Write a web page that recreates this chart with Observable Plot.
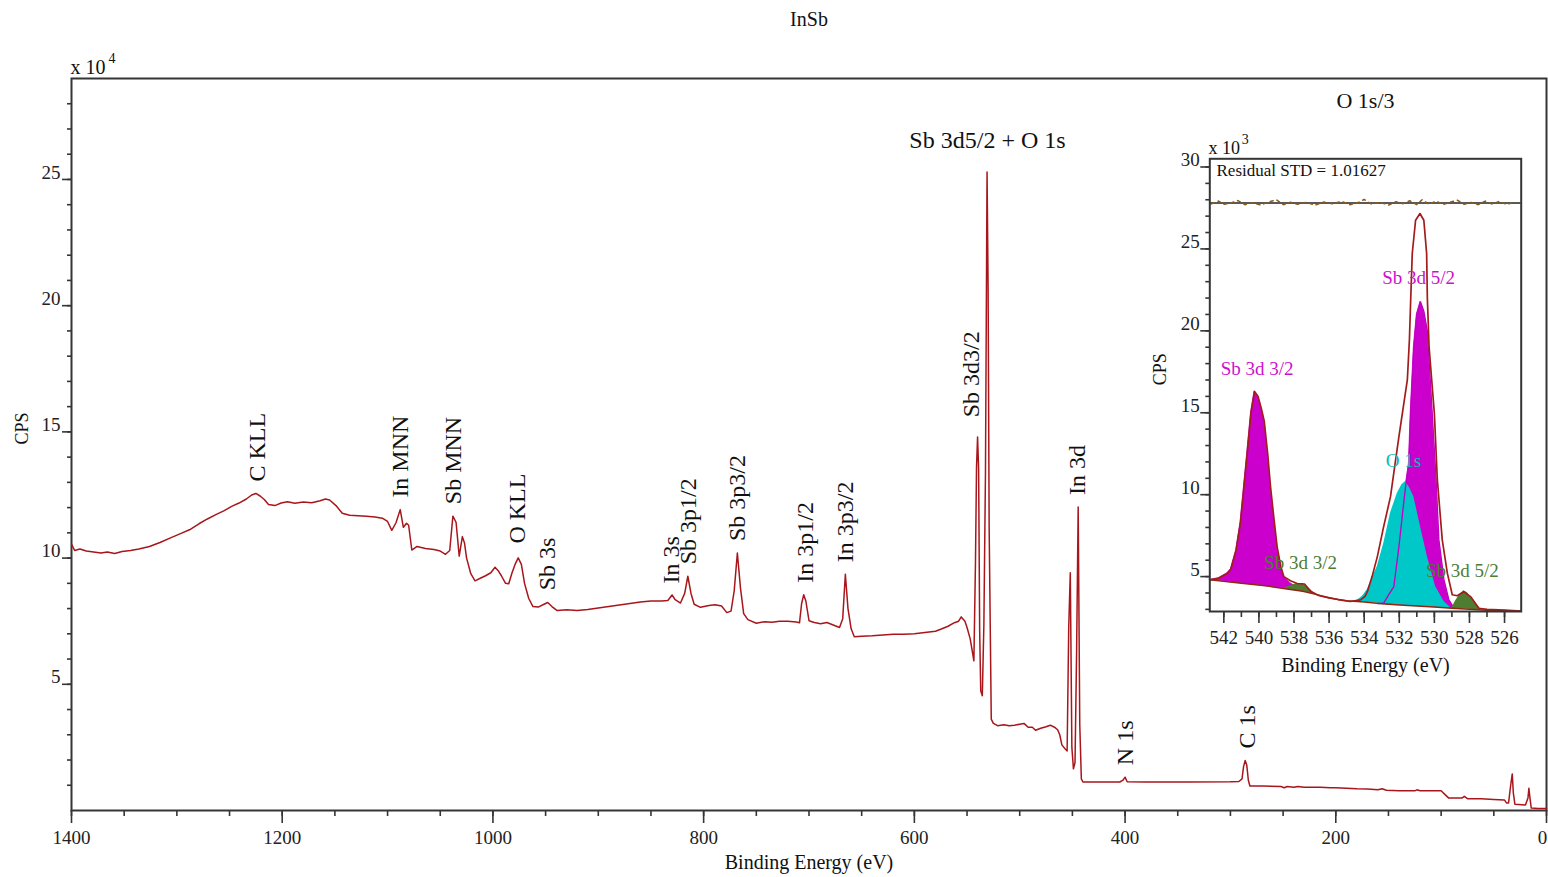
<!DOCTYPE html>
<html><head><meta charset="utf-8">
<script src="https://cdn.jsdelivr.net/npm/d3@7"></script>
<script src="https://cdn.jsdelivr.net/npm/@observablehq/plot@0.6"></script>
<style>
body{margin:0;background:#fff;}
#wrap{position:relative;width:1548px;height:877px;overflow:hidden;}
#main{position:absolute;left:0;top:0;}
#inset{position:absolute;left:1140px;top:80px;}
svg{overflow:visible;}
</style></head><body><div id="wrap"><div id="main"></div><div id="inset"></div></div>
<script>
const FONT = '"Liberation Serif", "Times New Roman", Times, serif';

// ---------- survey spectrum: [binding energy eV, CPS x 10^4] ----------
const surveyPoints = [
[1400,10.55],[1397,10.3],[1392,10.36],[1386,10.28],[1379,10.24],[1372,10.2],[1366,10.24],[1359,10.18],[1352,10.26],[1344,10.3],[1336,10.36],[1326,10.46],[1316,10.62],[1306,10.8],[1296,10.98],[1288,11.12],[1279,11.36],[1271,11.55],[1263,11.72],[1255,11.88],[1248,12.05],[1241,12.18],[1234,12.34],[1229,12.5],[1225,12.56],[1221,12.46],[1217,12.32],[1213,12.12],[1207,12.08],[1201,12.18],[1195,12.23],[1188,12.17],[1180,12.22],[1172,12.19],[1164,12.27],[1159,12.34],[1155,12.3],[1149,12.08],[1143,11.78],[1136,11.7],[1128,11.68],[1120,11.66],[1112,11.63],[1105,11.58],[1100,11.45],[1096,11.1],[1092,11.4],[1088,11.92],[1085,11.22],[1082,11.38],[1080,11.3],[1077,10.32],[1072,10.46],[1064,10.38],[1056,10.34],[1050,10.28],[1045,10.15],[1041,10.3],[1038,11.66],[1035,11.42],[1032,10.08],[1029,10.85],[1027,10.6],[1025,10.0],[1021,9.38],[1017,9.1],[1012,9.2],[1007,9.3],[1002,9.42],[998,9.64],[995,9.5],[992,9.3],[988,9.0],[985,8.98],[982,9.4],[979,9.75],[976,10.01],[973,9.75],[970,9.0],[966,8.4],[962,8.08],[957,8.06],[952,8.16],[948,8.24],[944,8.08],[939,7.92],[930,7.95],[920,7.92],[910,7.96],[900,8.02],[890,8.08],[880,8.14],[870,8.2],[860,8.26],[850,8.3],[840,8.3],[834,8.32],[830,8.54],[827,8.35],[822,8.22],[818,8.6],[815,9.28],[812,8.6],[809,8.17],[803,8.05],[795,8.12],[789,8.15],[783,8.1],[778,7.84],[774,7.9],[771,8.7],[768,10.2],[765,8.8],[762,7.8],[758,7.56],[750,7.42],[742,7.48],[735,7.46],[728,7.5],[720,7.5],[712,7.47],[709,7.44],[707,8.2],[705,8.55],[703,8.3],[700,7.52],[695,7.45],[689,7.4],[683,7.45],[677,7.35],[671,7.25],[668,7.6],[665.5,9.36],[663,8.0],[660,7.2],[657,6.88],[650,6.9],[640,6.92],[630,6.95],[620,6.98],[610,6.98],[600,7.0],[590,7.05],[580,7.1],[575,7.18],[568,7.3],[562,7.44],[558,7.5],[555.5,7.67],[552,7.5],[550,7.25],[547,6.8],[545,6.3],[543.5,5.93],[542,9.8],[541,13.6],[540,14.8],[539,13.5],[538,7.1],[537,4.74],[535.5,4.55],[534,7.4],[532.5,13.4],[531,25.3],[530,20.7],[529,11.2],[528,7.4],[527,3.62],[525,3.45],[521,3.36],[515,3.4],[510,3.36],[505,3.38],[500,3.42],[496,3.45],[492,3.3],[488,3.3],[485,3.18],[480,3.26],[475,3.32],[471,3.38],[467,3.3],[464,3.2],[462,3.0],[460,2.6],[457,2.45],[455,2.36],[453.5,7.2],[452,9.42],[450.5,2.5],[449,1.65],[447.5,1.9],[446,6.3],[444.5,12.02],[443,3.4],[441.5,1.25],[440,1.13],[420,1.13],[405,1.13],[402,1.2],[400,1.32],[398,1.14],[380,1.13],[340,1.13],[300,1.14],[292,1.15],[289,1.25],[287.5,1.75],[286,1.98],[284.5,1.8],[283,1.2],[281.5,0.97],[270,0.97],[252,0.95],[249,0.9],[246,0.95],[240,0.92],[236,0.95],[230,0.92],[215,0.92],[205,0.9],[200,0.9],[190,0.88],[180,0.86],[170,0.85],[160,0.82],[156,0.86],[152,0.8],[140,0.78],[125,0.78],[123,0.82],[120,0.78],[100,0.78],[96,0.62],[93,0.5],[80,0.5],[78,0.56],[75,0.47],[62,0.47],[50,0.44],[40,0.42],[38,0.3],[36,0.3],[34,1.0],[32.5,1.45],[31.5,0.7],[30,0.25],[20,0.22],[17.6,0.5],[16.7,0.88],[16,0.6],[14.5,0.1],[8,0.08],[0,0.08]
];

// peak labels: [name, BE, CPS x 10^4 at label foot]
const peakLabels = [
["C KLL",1224,12.56],["In MNN",1087.7,11.92],["Sb MNN",1037.4,11.66],["O KLL",976.7,10.1],
["Sb 3s",948.2,8.25],["In 3s",830.5,8.52],["Sb 3p1/2",814.4,9.28],["Sb 3p3/2",767.9,10.2],
["In 3p1/2",703.3,8.55],["In 3p3/2",665.4,9.36],["Sb 3d3/2",545.8,15.1],["In 3d",445.2,12.02],
["N 1s",399.6,1.32],["C 1s",283.8,1.98]
];
const topPeakLabel = [["Sb 3d5/2 + O 1s",530.6,25.3]];

// main axis ticks
const xMajorTicks = [200,400,600,800,1000,1200,1400];
const xEndTick = [0];
const xMinorTicks = d3.range(0,1401,50);
const yMajorTicks = [5,10,15,20,25];
const yMinorTicks = d3.range(1,29,1);

// ---------- inset O 1s/3 : [BE eV, CPS x 10^3] ----------
const backgroundLine = [[542.8,4.8],[541,4.6],[539.5,4.42],[538.6,4.27],[537.5,4.1],[536.7,3.9],[536,3.7],[535,3.52],[534,3.45],[533,3.35],[532,3.27],[531,3.2],[530,3.14],[529,3.07],[528,3.0],[527,2.95],[525.05,2.9]];
const envelopeLine = [[542.8,4.8],[542.3,4.9],[541.8,5.2],[541.6,5.45],[541.3,6.6],[541.05,8.3],[540.85,10.5],[540.67,12.5],[540.45,15.0],[540.25,16.3],[540.05,16.0],[539.85,15.2],[539.7,14.5],[539.5,12.5],[539.34,10.5],[539.15,8.6],[538.96,6.8],[538.75,5.6],[538.58,5.0],[538.2,4.75],[537.82,4.58],[537.4,4.55],[537.06,4.1],[536.6,3.85],[536.3,3.78],[535.5,3.6],[534.8,3.48],[534.2,3.58],[533.95,3.8],[533.82,4.08],[533.55,5.0],[533.25,6.22],[532.9,8.0],[532.5,9.88],[532.25,11.8],[532.02,13.55],[531.75,15.5],[531.54,17.0],[531.42,19.5],[531.35,21.87],[531.26,24.72],[531.07,26.75],[530.82,27.16],[530.6,26.75],[530.44,24.72],[530.4,22.0],[530.3,19.0],[530.0,14.96],[529.83,10.9],[529.55,7.24],[529.26,5.21],[528.98,3.89],[528.7,3.83],[528.32,4.08],[527.94,3.78],[527.46,3.07],[527,3.0],[526,2.95],[525.05,2.9]];
// components: [BE, top, background]
const sb32Main = [[542.8,4.8,4.8],[542.3,4.9,4.75],[541.8,5.2,4.68],[541.6,5.45,4.65],[541.3,6.6,4.62],[541.05,8.3,4.6],[540.85,10.5,4.58],[540.67,12.5,4.55],[540.45,15.0,4.52],[540.25,16.3,4.5],[540.05,16.0,4.48],[539.85,15.2,4.45],[539.7,14.5,4.43],[539.5,12.5,4.4],[539.34,10.5,4.38],[539.15,8.6,4.35],[538.96,6.8,4.33],[538.75,5.6,4.3],[538.58,5.0,4.27],[538.2,4.6,4.22],[537.8,4.3,4.15],[537.3,4.1,4.07],[536.9,3.95,3.95]];
const sb32Minor = [[538.6,4.27,4.27],[538.2,4.45,4.22],[537.82,4.58,4.15],[537.5,4.56,4.1],[537.2,4.35,4.05],[536.9,4.05,3.95],[536.6,3.85,3.83]];
const sb52Main = [[533.2,3.35,3.35],[532.88,3.4,3.34],[532.6,3.9,3.32],[532.31,4.39,3.3],[532.02,6.83,3.28],[531.8,9.0,3.26],[531.64,10.49,3.25],[531.45,11.9,3.23],[531.35,14.96,3.22],[531.17,19.0,3.21],[531.0,21.0,3.2],[530.79,21.77,3.18],[530.6,21.2,3.17],[530.4,20.0,3.16],[530.12,14.96,3.14],[529.9,10.9,3.13],[529.74,7.24,3.12],[529.45,4.8,3.1],[529.17,3.58,3.08],[528.89,3.1,3.07]];
const o1s = [[534.6,3.5,3.48],[534.39,3.55,3.47],[534.1,3.8,3.45],[533.82,4.19,3.42],[533.55,4.9,3.4],[533.25,5.62,3.37],[532.88,7.04,3.34],[532.5,8.87,3.31],[532.11,10.09,3.28],[531.85,10.6,3.25],[531.64,10.8,3.23],[531.4,10.4,3.22],[531.17,9.88,3.21],[530.79,8.05,3.18],[530.4,6.22,3.16],[529.93,4.39,3.13],[529.45,3.48,3.1],[529.07,3.1,3.08]];
const sb52Minor = [[529.0,3.08,3.08],[528.8,3.5,3.06],[528.55,3.9,3.04],[528.32,4.13,3.02],[528.1,4.0,3.0],[527.9,3.7,2.99],[527.6,3.3,2.97],[527.35,3.0,2.96]];
const residualBase = 27.8;
const residual = [[542.7,-0.05],[542.3,0.12],[542.0,-0.08],[541.6,0.0],[541.2,0.15],[540.8,-0.1],[540.4,0.02],[539.9,-0.12],[539.4,0.08],[539.0,0.2],[538.6,-0.1],[538.2,0.05],[537.8,-0.08],[537.3,0.04],[536.8,-0.12],[536.3,0.06],[535.8,-0.05],[535.3,0.1],[534.8,-0.1],[534.3,0.05],[534.0,0.22],[533.6,-0.06],[533.1,0.04],[532.6,-0.12],[532.2,0.08],[531.8,-0.04],[531.4,0.14],[531.0,-0.1],[530.7,0.2],[530.3,-0.08],[529.9,0.12],[529.5,-0.1],[529.1,0.05],[528.7,0.18],[528.3,-0.08],[527.9,0.04],[527.5,-0.1],[527.1,0.12],[526.7,-0.06],[526.3,0.1],[525.9,-0.08],[525.4,0.05]];
// inset labels: [name, BE, CPS x 10^3, group]
const insetLabels = [["Sb 3d 5/2",530.9,23.2,"m"],["Sb 3d 3/2",540.1,17.7,"m"],["O 1s",531.76,12.05,"c"],["Sb 3d 3/2",537.63,5.84,"g"],["Sb 3d 5/2",528.4,5.34,"g"]];
const insetXMajor = d3.range(526,543,2);
const insetXMinor = d3.range(526,543,1);
const insetYMajor = [5,10,15,20,25,30];
const insetYMinor = d3.range(3,31,1);

// ---------- styles ----------
const AX = "#353535";
const RED = "#a8161b";
const MAG = "#cc00cc", CYAN = "#00c8c8", GREEN = "#4e7d32";
const labelColor = {m: "#cc11cc", c: "#00bcbc", g: "#4e7d32"};
const blank = () => "";

const survey = surveyPoints.map(([be, cps]) => ({be, cps}));
const pl = peakLabels.map(([name, be, cps]) => ({name, be, cps}));
const tl = topPeakLabel.map(([name, be, cps]) => ({name, be, cps}));

const mainPlot = Plot.plot({
  width: 1548, height: 877,
  marginLeft: 71, marginRight: 2, marginTop: 78, marginBottom: 67,
  style: {fontFamily: FONT, fontSize: "19px", color: "#222", background: "transparent", overflow: "visible"},
  x: {domain: [1400, 0], label: null},
  y: {domain: [0, 29], label: null},
  marks: [
    Plot.axisX({ticks: xMinorTicks, tickSize: 6, tickFormat: blank, stroke: AX, strokeWidth: 1.6, label: null}),
    Plot.axisX({ticks: xMajorTicks.concat(xEndTick), tickSize: 13, tickFormat: blank, stroke: AX, strokeWidth: 1.6, label: null}),
    Plot.axisX({ticks: xMajorTicks, tickSize: 0, tickPadding: 20, tickFormat: d3.format("d"), fill: "#222", fontSize: 19, label: null}),
    Plot.axisX({ticks: xEndTick, tickSize: 0, tickPadding: 20, dx: -4, tickFormat: d3.format("d"), fill: "#222", fontSize: 19, label: null}),
    Plot.axisY({ticks: yMinorTicks, tickSize: 4, tickFormat: blank, stroke: AX, strokeWidth: 1.6, label: null}),
    Plot.axisY({ticks: yMajorTicks, tickSize: 9, tickFormat: blank, stroke: AX, strokeWidth: 1.6, label: null}),
    Plot.axisY({ticks: yMajorTicks, tickSize: 0, tickPadding: 11, dy: -7, fill: "#222", fontSize: 19, label: null}),
    Plot.frame({stroke: AX, strokeWidth: 2}),
    Plot.line(survey, {x: "be", y: "cps", stroke: RED, strokeWidth: 1.5}),
    Plot.text(pl, {x: "be", y: "cps", text: "name", rotate: -90, textAnchor: "start", dy: -12, fontSize: 24, fill: "#111"}),
    Plot.text(tl, {x: "be", y: "cps", text: "name", dy: -32, fontSize: 24, fill: "#111"}),
    Plot.text(["InSb"], {text: d => d, frameAnchor: "top", lineAnchor: "middle", dy: -59, fontSize: 20, fill: "#111"}),
    Plot.text(["x 10"], {text: d => d, frameAnchor: "top-left", lineAnchor: "middle", textAnchor: "start", dx: -1, dy: -11, fontSize: 20, fill: "#111"}),
    Plot.text(["4"], {text: d => d, frameAnchor: "top-left", lineAnchor: "middle", textAnchor: "start", dx: 37, dy: -20, fontSize: 14, fill: "#111"}),
    Plot.text(["CPS"], {text: d => d, frameAnchor: "left", lineAnchor: "middle", dx: -49, rotate: -90, fontSize: 18, fill: "#111"}),
    Plot.text(["Binding Energy (eV)"], {text: d => d, frameAnchor: "bottom", lineAnchor: "middle", dy: 52, fontSize: 20, fill: "#111"})
  ]
});
document.getElementById("main").appendChild(mainPlot);

const tri = a => a.map(([be, top, base]) => ({be, top, base}));
const pair = a => a.map(([be, v]) => ({be, v}));
const il = insetLabels.map(([name, be, v, g]) => ({name, be, v, g}));

const insetPlot = Plot.plot({
  width: 400, height: 610,
  marginLeft: 69.3, marginRight: 19.3, marginTop: 78.3, marginBottom: 79,
  style: {fontFamily: FONT, fontSize: "19px", color: "#222", background: "transparent", overflow: "visible"},
  x: {domain: [542.8, 525.05], label: null},
  y: {domain: [2.87, 30.5], label: null},
  marks: [
    Plot.areaY(tri(sb32Main), {x: "be", y1: "base", y2: "top", fill: MAG, stroke: MAG, strokeWidth: 0.8}),
    Plot.areaY(tri(sb32Minor), {x: "be", y1: "base", y2: "top", fill: GREEN}),
    Plot.areaY(tri(sb52Main), {x: "be", y1: "base", y2: "top", fill: MAG, stroke: MAG, strokeWidth: 0.8}),
    Plot.areaY(tri(o1s), {x: "be", y1: "base", y2: "top", fill: CYAN}),
    Plot.line(tri(sb52Main), {x: "be", y: "top", stroke: "#c000c0", strokeWidth: 1.3}),
    Plot.areaY(tri(sb52Minor), {x: "be", y1: "base", y2: "top", fill: GREEN}),
    Plot.line(pair(backgroundLine), {x: "be", y: "v", stroke: "#8b2a10", strokeWidth: 1.5}),
    Plot.line(pair(envelopeLine), {x: "be", y: "v", stroke: "#a31c1c", strokeWidth: 1.7}),
    Plot.ruleY([residualBase], {stroke: "#222", strokeWidth: 1.6}),
    Plot.line(pair(residual), {x: "be", y: d => residualBase + d.v, stroke: "#8b5a1b", strokeWidth: 1.5, strokeDasharray: "3,4"}),
    Plot.axisX({ticks: insetXMinor, tickSize: 6, tickFormat: blank, stroke: AX, strokeWidth: 1.6, label: null}),
    Plot.axisX({ticks: insetXMajor, tickSize: 12, tickPadding: 7, tickFormat: d3.format("d"), stroke: AX, strokeWidth: 1.6, fill: "#222", fontSize: 19, label: null}),
    Plot.axisY({ticks: insetYMinor, tickSize: 4, tickFormat: blank, stroke: AX, strokeWidth: 1.6, label: null}),
    Plot.axisY({ticks: insetYMajor, tickSize: 9, tickFormat: blank, stroke: AX, strokeWidth: 1.6, label: null}),
    Plot.axisY({ticks: insetYMajor, tickSize: 0, tickPadding: 10, dy: -7, fill: "#222", fontSize: 19, label: null}),
    Plot.frame({stroke: AX, strokeWidth: 2}),
    Plot.text(il, {x: "be", y: "v", text: "name", fill: d => labelColor[d.g], fontSize: 19}),
    Plot.text(["O 1s/3"], {text: d => d, frameAnchor: "top", lineAnchor: "middle", dy: -58, fontSize: 22, fill: "#111"}),
    Plot.text(["x 10"], {text: d => d, frameAnchor: "top-left", lineAnchor: "middle", textAnchor: "start", dx: -1.3, dy: -11, fontSize: 18, fill: "#111"}),
    Plot.text(["3"], {text: d => d, frameAnchor: "top-left", lineAnchor: "middle", textAnchor: "start", dx: 32, dy: -19, fontSize: 14, fill: "#111"}),
    Plot.text(["Residual STD = 1.01627"], {text: d => d, frameAnchor: "top-left", lineAnchor: "middle", textAnchor: "start", dx: 6.7, dy: 12, fontSize: 17, fill: "#111"}),
    Plot.text(["CPS"], {text: d => d, frameAnchor: "left", lineAnchor: "middle", dx: -49.3, rotate: -90, fontSize: 18, fill: "#111"}),
    Plot.text(["Binding Energy (eV)"], {text: d => d, frameAnchor: "bottom", lineAnchor: "middle", dy: 54, fontSize: 20, fill: "#111"})
  ]
});
document.getElementById("inset").appendChild(insetPlot);
</script></body></html>
